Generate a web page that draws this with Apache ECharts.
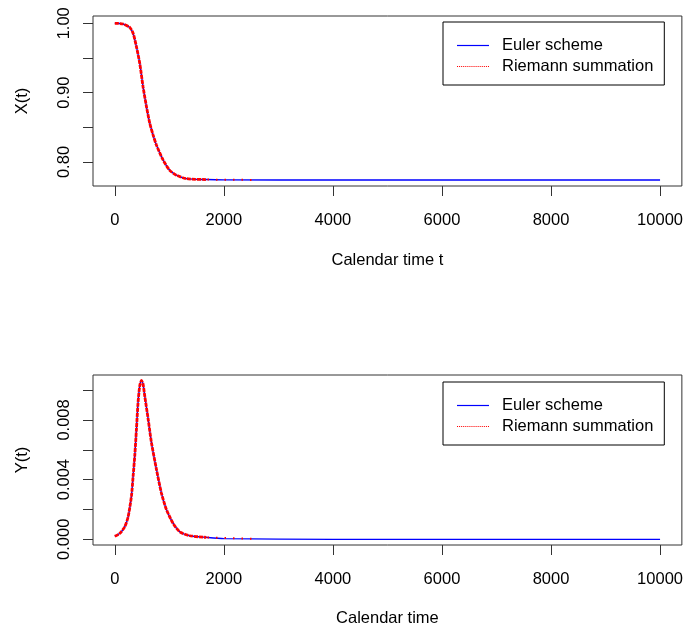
<!DOCTYPE html>
<html>
<head>
<meta charset="utf-8">
<script src="https://cdn.jsdelivr.net/npm/echarts@6/dist/echarts.min.js"></script>
<style>
  html, body { margin: 0; padding: 0; background: #fff; }
  #chart { width: 686px; height: 629px; }
</style>
</head>
<body>
<div id="chart"></div>
<script>
// Calendar time samples along the epidemic curve
const tSamples = [0, 150, 275, 335, 397, 458, 518, 580, 641, 702, 763, 885, 1007, 1129, 1312, 1680, 2000, 4000, 6000, 8000, 10000];
// Susceptible fraction X(t)
const xValues = [1.000, 0.999, 0.994, 0.9856, 0.966, 0.942, 0.9085, 0.880, 0.856, 0.839, 0.8245, 0.803, 0.788, 0.781, 0.776, 0.7747, 0.7742, 0.774, 0.774, 0.774, 0.774];

// Calendar time samples for the infected curve
const tInf = [0, 92, 183, 244, 305, 335, 366, 397, 427, 458, 489, 518, 549, 610, 671, 763, 855, 946, 1068, 1190, 1374, 1680, 2000, 4000, 6000, 8000, 10000];
// Infected fraction Y(t)
const yValues = [0.0002, 0.0004, 0.00085, 0.0015, 0.0029, 0.0042, 0.0056, 0.0074, 0.0092, 0.0103, 0.01065, 0.0104, 0.0096, 0.0081, 0.0065, 0.0047, 0.0031, 0.0020, 0.00108, 0.00051, 0.00024, 0.00013, 0.00005, 0, 0, 0, 0];

// The Riemann sum is only evaluated up to this time
const riemannEnd = 2550;
const riemannDense = 1700;

const xTicks = [0, 2000, 4000, 6000, 8000, 10000];
const topTicks = [0.80, 0.85, 0.90, 0.95, 1.00];
const topLabels = [0.80, 0.90, 1.00];
const botTicks = [0, 0.002, 0.004, 0.006, 0.008, 0.010];
const botLabels = [0, 0.004, 0.008];

const FONT = 'Liberation Sans, Arial, sans-serif';
const FS = 16.5;

// Legend key for the dotted line: a row of short dashes
let dotted = 'path://';
for (let i = 0; i < 16; i++) dotted += 'M' + (i * 4) + ',0h2v2h-2z';

function pairs(ts, vs, tMin, tMax) {
  const out = [];
  for (let i = 0; i < ts.length; i++) {
    if (ts[i] >= tMin && ts[i] <= tMax) out.push([ts[i], vs[i]]);
  }
  return out;
}
function tailValue(ts, vs, t) {
  for (let i = 1; i < ts.length; i++) {
    if (ts[i] >= t) {
      const f = (t - ts[i - 1]) / (ts[i] - ts[i - 1]);
      return vs[i - 1] + f * (vs[i] - vs[i - 1]);
    }
  }
  return vs[vs.length - 1];
}

function xAxisFor(gridIndex, name, nameGap) {
  return {
    gridIndex, type: 'value', min: -400, max: 10400,
    name, nameLocation: 'middle', nameGap,
    nameTextStyle: { fontFamily: FONT, fontSize: FS, color: '#000' },
    axisLine: { show: false, onZero: false },
    splitLine: { show: false },
    axisTick: { show: true, length: 10, lineStyle: { color: '#333', width: 1 }, customValues: xTicks },
    axisLabel: { fontFamily: FONT, fontSize: FS, color: '#000', margin: 26, customValues: xTicks,
      formatter: v => String(Math.round(v)) }
  };
}
function yAxisFor(gridIndex, name, min, max, ticks, labels, digits) {
  return {
    gridIndex, type: 'value', min, max,
    name, nameLocation: 'middle', nameGap: 62, nameRotate: 90,
    nameTextStyle: { fontFamily: FONT, fontSize: FS, color: '#000' },
    axisLine: { show: false, onZero: false },
    splitLine: { show: false },
    axisTick: { show: true, length: 10, lineStyle: { color: '#333', width: 1 }, customValues: ticks },
    axisLabel: { fontFamily: FONT, fontSize: FS, color: '#000', margin: 20, rotate: 90,
      customValues: labels, formatter: v => Number(v).toFixed(digits) }
  };
}

function legendFor(top) {
  return {
    left: 443, top,
    orient: 'vertical',
    borderColor: '#000', borderWidth: 1,
    padding: [15, 11, 10, 14],
    itemWidth: 32, itemHeight: 1.2, itemGap: 4,
    symbolKeepAspect: false,
    textStyle: { fontFamily: FONT, fontSize: FS, color: '#000', padding: [0, 0, 0, 8] },
    selectedMode: false,
    data: [
      { name: 'Euler scheme', icon: 'rect', itemStyle: { color: '#0000ff', opacity: 1, borderWidth: 0 } },
      { name: 'Riemann summation', icon: dotted, itemStyle: { color: '#ff0000', opacity: 1, borderWidth: 0 } }
    ]
  };
}

function seriesFor(idx, ts, vs) {
  const dense = pairs(ts, vs, 0, riemannDense);
  const tail = [[riemannDense, tailValue(ts, vs, riemannDense)], [riemannEnd, tailValue(ts, vs, riemannEnd)]];
  return [
    { name: 'Euler scheme', type: 'line', xAxisIndex: idx, yAxisIndex: idx, data: pairs(ts, vs, 0, 10000),
      symbol: 'none', smooth: 0.25, lineStyle: { color: '#0000ff', width: 1.4 }, itemStyle: { color: '#0000ff' },
      z: 2, silent: true },
    { name: 'Riemann summation', type: 'line', xAxisIndex: idx, yAxisIndex: idx, data: dense,
      symbol: 'none', smooth: 0.25, lineStyle: { color: '#ff0000', width: 2.8, type: [4, 1] }, itemStyle: { color: '#ff0000' },
      z: 3, silent: true },
    { name: 'Riemann summation', type: 'line', xAxisIndex: idx, yAxisIndex: idx, data: tail,
      symbol: 'none', lineStyle: { color: '#ff0000', width: 2, type: [1.5, 7] }, itemStyle: { color: '#ff0000' },
      z: 3, silent: true }
  ];
}

const chart = echarts.init(document.getElementById('chart'), null, { renderer: 'canvas' });
chart.setOption({
  animation: false,
  backgroundColor: '#fff',
  grid: [
    { left: 93, top: 16, width: 590, height: 170, show: true, borderColor: '#333', borderWidth: 1, backgroundColor: 'transparent' },
    { left: 93, top: 375, width: 590, height: 170, show: true, borderColor: '#333', borderWidth: 1, backgroundColor: 'transparent' }
  ],
  legend: [legendFor(22), legendFor(382)],
  xAxis: [xAxisFor(0, 'Calendar time t', 66), xAxisFor(1, 'Calendar time', 65)],
  yAxis: [
    yAxisFor(0, 'X(t)', 0.7654, 1.0105, topTicks, topLabels, 2),
    yAxisFor(1, 'Y(t)', -0.00038, 0.01101, botTicks, botLabels, 3)
  ],
  series: [...seriesFor(0, tSamples, xValues), ...seriesFor(1, tInf, yValues)]
});
</script>
</body>
</html>
